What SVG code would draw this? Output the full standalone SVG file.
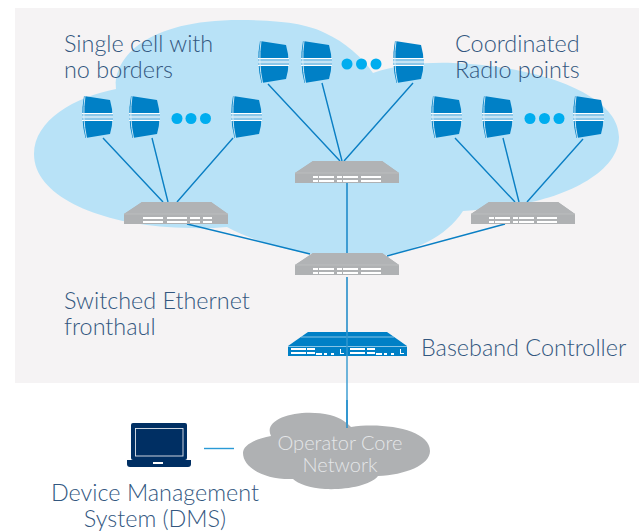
<svg xmlns="http://www.w3.org/2000/svg" xmlns:xlink="http://www.w3.org/1999/xlink" width="639" height="531" viewBox="0 0 639 531">
<style>
text{font-family:Lato,"Open Sans","Liberation Sans",sans-serif;font-weight:300;font-size:23.4px;fill:#33577f}
.c{stroke:#0a7fc4;stroke-width:1.4;fill:none}
.sw{fill:#afb1b3}
.w{fill:#fff}
.dot{fill:#00adef}
</style>
<defs>
<g id="radio">
<path d="M2,0L28,4Q33,21 28,38L3.500,42Q-2,21 2,0Z" fill="#0080c6"/>
<rect x="0" y="17" width="31" height="7.500" fill="#8cc7e9"/>
<path d="M0,17.500H31M0,21H31M0,24.500H31" stroke="#fff" stroke-width="1"/>
<path d="M3,0Q0,21 4.500,42" stroke="#dcf0fa" stroke-width=".9" fill="none"/>
</g>
<g id="sw">
<path class="sw" d="M18,0H87L104,12V22H0V12Z"/>
<path d="M18,0H87L104,12H0Z" fill="#b1b3b5"/>
<path d="M0,12H104" stroke="#c4c6c8" stroke-width=".6"/>
</g>
<g id="bars1">
<path class="w" d="M19,15h20v2h-20zM19,19h20v2h-20zM43,15h20v2h-20zM43,19h20v2h-20zM66,15h10v2h-10zM66,19h10v2h-10zM79,15h9v2h-9zM79,19h9v2h-9z"/>
</g>
<g id="bars2">
<path class="w" d="M18,15h5v2h-5zM18,19h5v2h-5zM24,15h15v2h-15zM24,19h15v2h-15zM42,15h5v2h-5zM42,19h5v2h-5zM48,15h15v2h-15zM48,19h15v2h-15zM66,15h20v2h-20zM66,19h20v2h-20z"/>
</g>
</defs>
<rect id="panel" x="15" y="8" width="624" height="375" fill="#f5f3f4"/>
<path id="coverage" fill="#b8e2f7" d="M116,89C113,62 140,20 240,20C285,20 310,25 325,33C345,42 362,57 373,73C395,65 425,62 453,63C540,66 619,95 619,137C619,170 570,197 515,205C495,208 478,210 463,211C445,238 415,250 387,255C340,264 270,250 227,227C205,229 185,228 167,227C95,222 34,195 34,154C34,120 75,97 116,89Z"/>
<g id="connectors" class="c">
<path d="M103,138L163,202M152,138L168,202M233,138L177,202"/>
<path d="M268,84L340,161M322,83L342,161M413,83L344,161"/>
<path d="M455,138L515,202M503,138L519,202M583,139L527,202"/>
<path d="M187,224L310,254M505,224L387,256"/>
<path d="M347,183V253M347,277V334"/>
<path d="M347,356V428" stroke="#3397cf"/>
<path d="M204,448.500H234" stroke="#2a9ad6"/>
</g>
<g id="radios1">
<use xlink:href="#radio" x="82" y="96"/><use xlink:href="#radio" x="129" y="96"/><use xlink:href="#radio" x="231" y="96"/>
<circle class="dot" cx="177" cy="118.500" r="5.500"/><circle class="dot" cx="191" cy="118.500" r="5.500"/><circle class="dot" cx="205.500" cy="118.500" r="5.500"/>
</g>
<g id="radios2">
<use xlink:href="#radio" x="258" y="41"/><use xlink:href="#radio" x="301" y="41"/><use xlink:href="#radio" x="393" y="41"/>
<circle class="dot" cx="347" cy="64" r="5.500"/><circle class="dot" cx="361.500" cy="64" r="5.500"/><circle class="dot" cx="376" cy="64" r="5.500"/>
</g>
<g id="radios3">
<use xlink:href="#radio" x="431" y="96"/><use xlink:href="#radio" x="482" y="96"/><use xlink:href="#radio" x="573" y="96"/>
<circle class="dot" cx="530" cy="118.500" r="5.500"/><circle class="dot" cx="544.500" cy="118.500" r="5.500"/><circle class="dot" cx="559" cy="118.500" r="5.500"/>
</g>
<g id="switch1" transform="translate(124,202)"><use xlink:href="#sw"/><use xlink:href="#bars1"/></g>
<g id="switch2" transform="translate(295,161)"><use xlink:href="#sw"/><use xlink:href="#bars2"/></g>
<g id="switch3" transform="translate(471,202)"><use xlink:href="#sw"/><use xlink:href="#bars2"/></g>
<g id="switch4" transform="translate(295,253)"><use xlink:href="#sw"/><use xlink:href="#bars2"/></g>
<g id="controller">
<path d="M308,332H387L407,346V356H288V346Z" fill="#0080c6"/>
<path d="M301,337H394M288,346.500H407" stroke="#a9d6ef" stroke-width=".8" fill="none"/>
<path class="w" d="M291,348h15v2h-15zM291,352h15v2h-15zM307,348h8v2h-8zM307,352h8v2h-8zM316,353h6v2h-6zM324,353h3v2h-3zM331,353h3v2h-3zM340,349h1v5h-1zM340,353h4v1h-4zM350,348h15v2h-15zM350,352h15v2h-15zM367,348h8v2h-8zM367,352h8v2h-8zM376,353h6v2h-6zM384,353h3v2h-3zM391,353h3v2h-3zM400,349h1v5h-1zM400,353h4v1h-4z"/>
<path d="M347,330V356" stroke="#3397cf" stroke-width="1.400"/>
</g>
<g id="core">
<path class="sw" d="M271,436C262,418 300,408 330,415C342,418 348,424 351,427C385,422 430,430 430,451C430,465 405,475 378,476C370,486 345,490 325,489C310,488 298,484 293,479C265,480 243,468 243,453C243,445 255,439 271,436Z"/>
<text x="340" y="450" text-anchor="middle" style="fill:#e4e6e8;font-size:20px">Operator Core</text>
<text x="340" y="472" text-anchor="middle" style="fill:#e4e6e8;font-size:20px">Network</text>
</g>
<path d="M347,400V428" stroke="#1a8acb" stroke-width="1.400"/>
<g id="dms">
<rect x="131" y="423" width="56" height="37" rx="2" fill="#002f63"/>
<rect x="135.500" y="428.500" width="47.500" height="27.500" fill="none" stroke="#dfe5ec" stroke-width=".9"/>
<path d="M127,460H191V464Q191,467 188,467H130Q127,467 127,464Z" fill="#002f63"/>
<rect x="153" y="462" width="10" height="2" fill="#fff"/>
<text x="155" y="501" text-anchor="middle">Device Management</text>
<text x="155" y="527" text-anchor="middle">System (DMS)</text>
</g>
<g id="labels">
<text x="64" y="52">Single cell with</text>
<text x="64" y="78">no borders</text>
<text x="455" y="52">Coordinated</text>
<text x="455" y="78">Radio points</text>
<text x="64" y="309">Switched Ethernet</text>
<text x="64" y="335">fronthaul</text>
<text x="421" y="356">Baseband Controller</text>
</g>
</svg>
